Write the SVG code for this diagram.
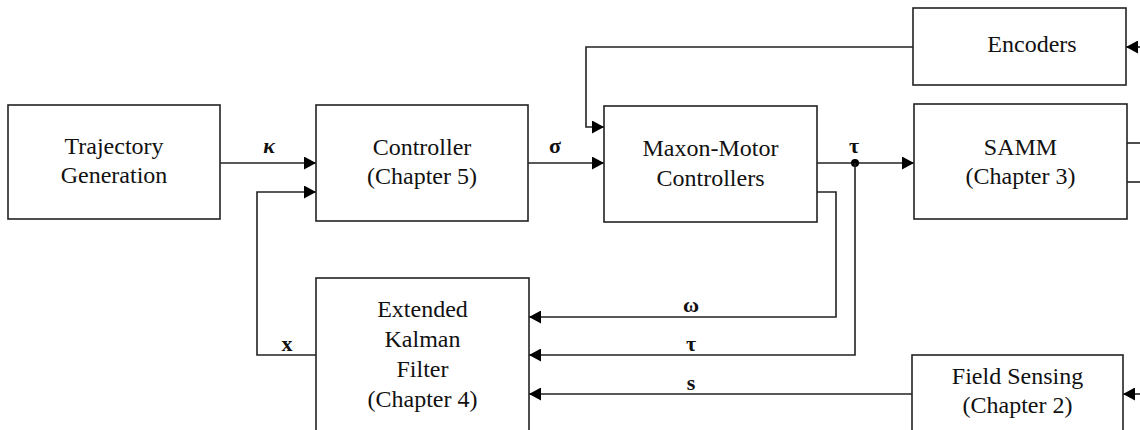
<svg xmlns="http://www.w3.org/2000/svg" width="1140" height="430" viewBox="0 0 1140 430">
  <defs>
    <marker id="arrow" markerUnits="userSpaceOnUse" markerWidth="13" markerHeight="13" refX="12" refY="6.5" orient="auto">
      <path d="M0,0 L12,6.5 L0,13 z" fill="#000"/>
    </marker>
    <style>
      .box { fill: #fff; stroke: #222; stroke-width: 1.6; }
      .txt { font-family: "Liberation Serif", "Times New Roman", serif; font-size: 24px; fill: #111; text-anchor: middle; }
      .lbl { font-family: "Liberation Serif", "Times New Roman", serif; font-size: 22px; font-weight: bold; fill: #111; text-anchor: middle; }
      .wire { fill: none; stroke: #222; stroke-width: 1.6; }
      .arr { marker-end: url(#arrow); }
    </style>
  </defs>

  <rect width="1140" height="430" fill="#fff"/>

  <!-- signal paths -->
  <g id="connectors">
    <path class="wire arr" d="M220,163 H316"/>
    <path class="wire arr" d="M528,163 H604"/>
    <path class="wire arr" d="M817,163 H914"/>
    <circle cx="855" cy="163" r="4" fill="#000"/>
    <path class="wire arr" d="M855,163 V355 H529"/>
    <path class="wire arr" d="M817,192 H836 V317 H529"/>
    <path class="wire arr" d="M912,394 H529"/>
    <path class="wire arr" d="M316,355 H257 V192 H316"/>
    <path class="wire arr" d="M913,47 H586 V127 H604"/>
    <path class="wire arr" d="M1140,47 H1126"/>
    <path class="wire" d="M1127,143 H1140"/>
    <path class="wire" d="M1127,182 H1140"/>
    <path class="wire arr" d="M1140,394 H1123"/>

    <text class="lbl" x="269" y="153" font-style="italic">κ</text>
    <text class="lbl" x="555" y="153">σ</text>
    <text class="lbl" x="854" y="153">τ</text>
    <text class="lbl" x="691" y="312">ω</text>
    <text class="lbl" x="691" y="351">τ</text>
    <text class="lbl" x="691" y="390">s</text>
    <text class="lbl" x="287" y="351">x</text>
  </g>

  <g id="trajectory">
    <rect class="box" x="8" y="105" width="212" height="114"/>
    <text class="txt" x="114" y="154">Trajectory</text>
    <text class="txt" x="114" y="183">Generation</text>
  </g>

  <g id="controller">
    <rect class="box" x="316" y="105" width="212" height="116"/>
    <text class="txt" x="422" y="155">Controller</text>
    <text class="txt" x="422" y="184">(Chapter 5)</text>
  </g>

  <g id="maxon">
    <rect class="box" x="604" y="106" width="213" height="116"/>
    <text class="txt" x="710.5" y="156">Maxon-Motor</text>
    <text class="txt" x="710.5" y="186">Controllers</text>
  </g>

  <g id="encoders">
    <rect class="box" x="913" y="8" width="213" height="77"/>
    <text class="txt" x="1032" y="52">Encoders</text>
  </g>

  <g id="samm">
    <rect class="box" x="914" y="104" width="213" height="115"/>
    <text class="txt" x="1020.5" y="155">SAMM</text>
    <text class="txt" x="1020.5" y="184">(Chapter 3)</text>
  </g>

  <g id="ekf">
    <rect class="box" x="316" y="278" width="213" height="170"/>
    <text class="txt" x="422.5" y="317">Extended</text>
    <text class="txt" x="422.5" y="347">Kalman</text>
    <text class="txt" x="422.5" y="377">Filter</text>
    <text class="txt" x="422.5" y="407">(Chapter 4)</text>
  </g>

  <g id="field-sensing">
    <rect class="box" x="912" y="355" width="211" height="90"/>
    <text class="txt" x="1017.5" y="384">Field Sensing</text>
    <text class="txt" x="1017.5" y="413">(Chapter 2)</text>
  </g>
</svg>
